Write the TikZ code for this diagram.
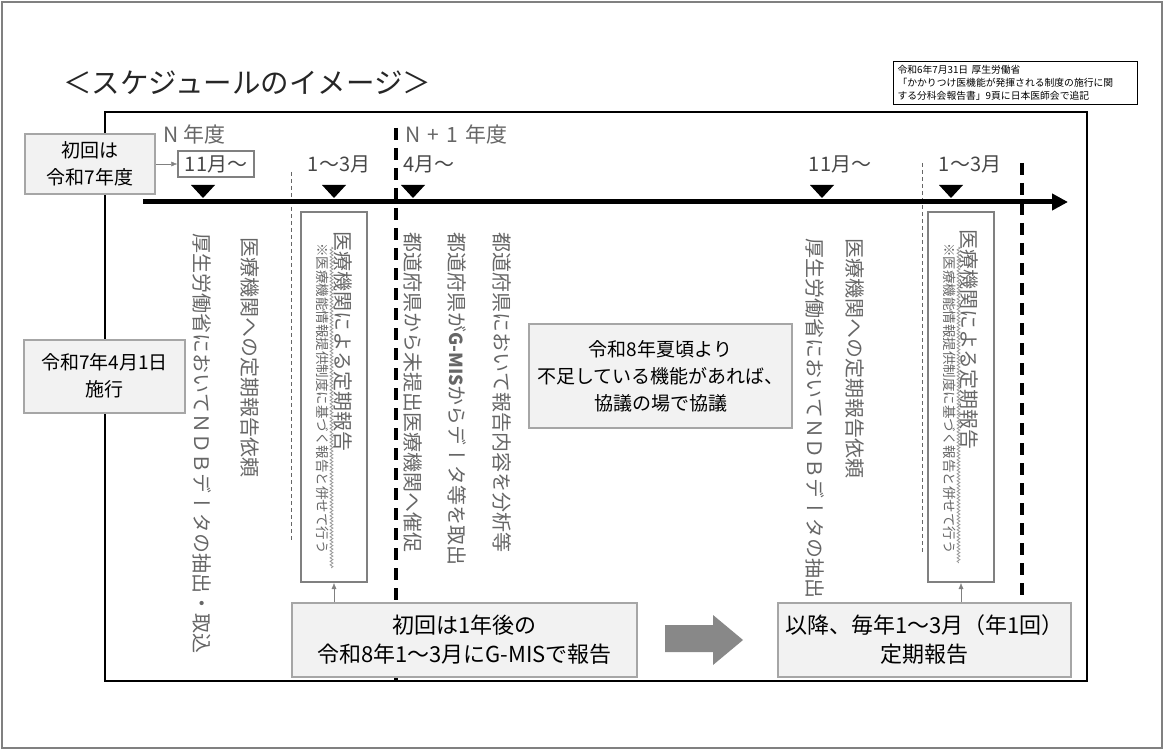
\documentclass[tikz,border=0pt]{standalone}
\usepackage{fontspec}
\setmainfont{Noto Sans CJK JP}
\newfontfamily\vjp[Vertical={Alternates,RotatedGlyphs}]{Noto Sans CJK JP}
\usetikzlibrary{arrows.meta,decorations.pathmorphing}
\definecolor{boxgray}{HTML}{F2F2F2}
\definecolor{linegray}{HTML}{A6A6A6}
\definecolor{txtgray}{HTML}{666666}
\definecolor{arrowgray}{HTML}{888888}
\newcommand{\fs}[2]{\fontsize{#1}{#2}\selectfont}

\begin{document}
\begin{tikzpicture}[x=1pt, y=-1pt, >={Latex[length=6pt,width=5pt]},
    gbox/.style = {draw=linegray, fill=boxgray, line width=2pt, align=center, font=\fs{19}{27}},
    bigbox/.style = {gbox, font=\fs{22}{29}, minimum height=74},
    vbox/.style = {draw=gray, fill=white, line width=2pt, minimum width=66, minimum height=370},
    vtext/.style = {rotate=-90, anchor=west, inner sep=0pt, text=txtgray, font=\vjp\fs{20}{20}},
    vsmall/.style = {vtext, font=\vjp\fs{13.5}{13.5}},
    month/.style = {text=txtgray!70!black, font=\fs{20}{20}},
    wavy/.style = {draw=gray!80, line width=0.8pt, decorate, decoration={snake, amplitude=1.4pt, segment length=3.5pt}},
    tick/.style = {line width=4pt, dash pattern=on 12pt off 8pt}]
  \useasboundingbox (0,0) rectangle (1166,751);
  \draw[gray, line width=1.5pt] (2,2) rectangle (1162,748);
  \draw[black, line width=1.5pt] (105,112) rectangle (1087,681);

  \node[font=\fs{28.5}{30}, text=black!85, anchor=west, inner sep=0pt] (title) at (63,83) {＜スケジュールのイメージ＞};
  \node[draw=black, line width=0.8pt, align=left, font=\fs{9.8}{13}, text width=236, minimum height=42, inner sep=4] (src) at (1015.5,83)
    {令和6年7月31日 厚生労働省\\「かかりつけ医機能が発揮される制度の施行に関\\する分科会報告書」9頁に日本医師会で追記};

  % timeline
  \draw[tick] (396,128) -- (396,680);
  \draw[tick] (1022,163) -- (1022,677);
  \draw[txtgray, line width=1pt, dash pattern=on 4pt off 3pt] (291,172) -- (291,542);
  \draw[txtgray, line width=1pt, dash pattern=on 4pt off 3pt] (922,163) -- (922,553);
  \coordinate (t0) at (143,202);
  \coordinate (t1) at (1068,202);
  \draw[line width=5pt, -{Triangle[length=16pt,width=16pt]}] (t0) -- (t1);
  \foreach \x in {203,334,413,822,951}
    \fill (\x-12,185) -- (\x+12,185) -- (\x,198) -- cycle;

  \node[text=txtgray, font=\fs{21}{21}, anchor=west] (yn) at (160,135) {N 年度};
  \node[text=txtgray, font=\fs{21}{21}, anchor=west] (yn1) at (402,135) {N\hspace{7pt}+\hspace{7pt}1\hspace{7pt}年度};
  \node[month, draw=gray, line width=1.5pt, inner sep=1pt, minimum width=76, minimum height=26] (m11) at (216,164) {11月～};
  \node[month] (m13) at (339,164) {1～3月};
  \node[month, anchor=west] (m4) at (400,164) {4月～};
  \node[month] (n11) at (840,164) {11月～};
  \node[month] (n13) at (970,164) {1～3月};

  \node[gbox, minimum width=130, minimum height=60] (first) at (90,164) {初回は\\令和7年度};
  \draw[->, gray] (first) -- (m11);
  \node[gbox, minimum width=161, minimum height=73] (start) at (104.5,376) {令和7年4月1日\\施行};
  \node[gbox, minimum width=263, minimum height=104] (talk) at (660.5,376) {令和8年夏頃より\\不足している機能があれば、\\協議の場で協議};

  % vertical texts
  \node[vtext] (a1) at (202,233) {厚生労働省においてＮＤＢデータの抽出・取込};
  \node[vtext] (a2) at (250,237) {医療機関への定期報告依頼};
  \node[vbox] (r1) at (334,397) {};
  \node[vtext] (a3) at (343,231) {医療機関による定期報告};
  \node[vsmall] (a4) at (323,243) {※医療機能情報提供制度に基づく報告と併せて行う};
  \draw[wavy] (331.5,247) -- (331.5,568);
  \node[vtext] (b1) at (413,232) {都道府県から未提出医療機関へ催促};
  \node[vtext] (b2) at (457,232) {都道府県が{\rmfamily\bfseries\fs{18}{18}G-MIS}からデータ等を取出};
  \node[vtext] (b3) at (502,232) {都道府県において報告内容を分析等};
  \node[vtext] (c1) at (815,238) {厚生労働省においてＮＤＢデータの抽出};
  \node[vtext] (c2) at (855,238) {医療機関への定期報告依頼};
  \node[vbox] (r2) at (961,397) {};
  \node[vtext] (c3) at (969,229) {医療機関による定期報告};
  \node[vsmall] (c4) at (950,243) {※医療機能情報提供制度に基づく報告と併せて行う};
  \draw[wavy] (958.5,247) -- (958.5,563);

  % bottom
  \node[bigbox, minimum width=345] (init) at (464.5,640) {初回は1年後の\\令和8年1～3月にG-MISで報告};
  \node[bigbox, minimum width=293] (every) at (924.5,640) {以降、毎年1～3月（年1回）\\定期報告};
  \draw[->, gray] (init.north -| r1.south) -- (r1.south);
  \draw[->, gray] (every.north -| r2.south) -- (r2.south);
  \fill[arrowgray] (665,625) -- (713,625) -- (713,615) -- (743,640) -- (713,665) -- (713,652) -- (665,652) -- cycle;
\end{tikzpicture}
\end{document}
